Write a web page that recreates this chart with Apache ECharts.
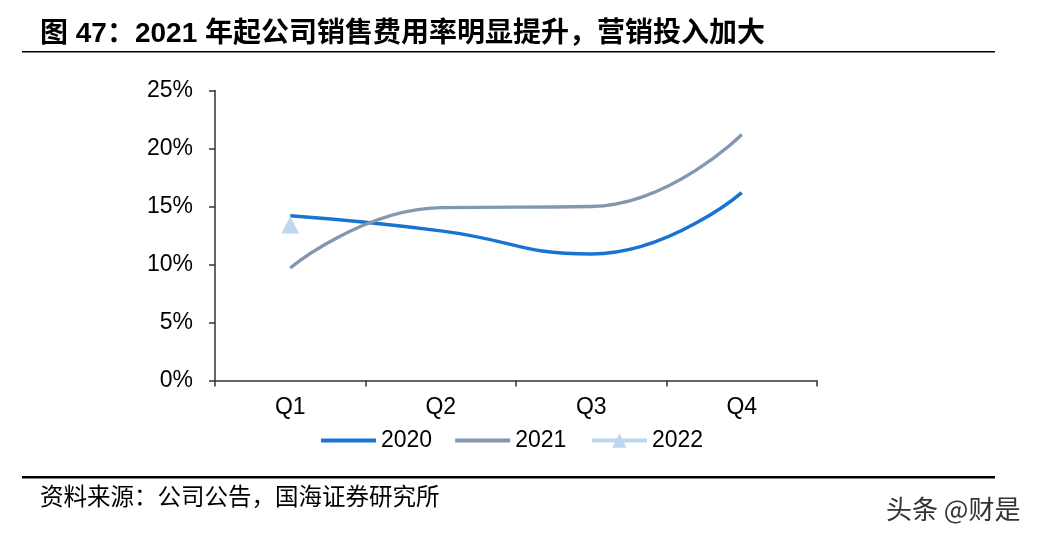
<!DOCTYPE html>
<html><head><meta charset="utf-8">
<script src="https://cdn.jsdelivr.net/npm/echarts@6/dist/echarts.min.js"></script>
<style>html,body{margin:0;padding:0;background:#fff}#c{width:1038px;height:540px}</style>
</head><body><div id="c"></div>
<script>
var categories = ['Q1', 'Q2', 'Q3', 'Q4'];
var s2020 = [14.2, 12.9, 10.9, 16.2];
var s2021 = [9.7, 14.9, 15.0, 21.2];
var s2022 = [13.4, null, null, null];
var seriesNames = ['2020', '2021', '2022'];
var titleText = '图 47：2021 年起公司销售费用率明显提升，营销投入加大';
var sourceText = '资料来源：公司公告，国海证券研究所';
var watermark = '头条 @财是';

var chart = echarts.init(document.getElementById('c'));
var font = 'Liberation Sans, Arial, sans-serif';
chart.setOption({
  animation: false,
  backgroundColor: '#fff',
  grid: {left: 215, right: 221, top: 90.5, bottom: 159.5, containLabel: false},
  xAxis: {
    type: 'category', data: categories, boundaryGap: true,
    axisLine: {lineStyle: {color: '#333', width: 1.5}},
    axisTick: {show: true, length: 6, lineStyle: {color: '#333', width: 1.5}},
    axisLabel: {color: '#000', fontSize: 23, fontFamily: font, margin: 16}
  },
  yAxis: {
    type: 'value', min: 0, max: 25, interval: 5,
    axisLine: {show: true, lineStyle: {color: '#333', width: 1.5}},
    axisTick: {show: true, length: 6, lineStyle: {color: '#333', width: 1.5}},
    splitLine: {show: false},
    axisLabel: {color: '#000', fontSize: 23, fontFamily: font, margin: 22, formatter: '{value}%'}
  },
  legend: [
    {
      data: [{name: seriesNames[0], icon: 'rect'}, {name: seriesNames[1], icon: 'rect'}],
      left: 321, top: 429, padding: 0,
      itemWidth: 55, itemHeight: 4, itemGap: 23,
      textStyle: {color: '#000', fontSize: 23, fontFamily: font}
    },
    {
      data: [seriesNames[2]],
      left: 590, top: 429, padding: 0,
      itemWidth: 55, itemHeight: 18,
      lineStyle: {width: 4},
      textStyle: {color: '#000', fontSize: 23, fontFamily: font}
    }
  ],
  series: [
    {name: '2020', type: 'line', data: s2020, smooth: 0.5, showSymbol: false, symbol: 'none',
     lineStyle: {color: '#1874D2', width: 3.4}, itemStyle: {color: '#1874D2'}},
    {name: '2021', type: 'line', data: s2021, smooth: 0.5, showSymbol: false, symbol: 'none',
     lineStyle: {color: '#8497B0', width: 3.4}, itemStyle: {color: '#8497B0'}},
    {name: '2022', type: 'line', data: s2022, symbol: 'triangle', symbolSize: [18, 17], showSymbol: true,
     lineStyle: {color: '#BDD7EE', width: 3.4}, itemStyle: {color: '#BDD7EE'}, z: 5}
  ],
  graphic: [
    {type: 'text', left: 40, top: 20, style: {text: titleText, fontSize: 28, fontWeight: 'bold', fill: '#000',
      fontFamily: 'Liberation Sans, Noto Sans CJK SC, sans-serif'}},
    {type: 'rect', shape: {x: 22, y: 51, width: 973, height: 1.5}, style: {fill: '#000'}},
    {type: 'rect', shape: {x: 22, y: 476, width: 973, height: 2.5}, style: {fill: '#000'}},
    {type: 'text', left: 40, top: 484, style: {text: sourceText, fontSize: 23.5, fill: '#000',
      fontFamily: 'Noto Sans CJK SC, sans-serif'}},
    {type: 'text', left: 886, top: 496, style: {text: watermark, fontSize: 26, fill: '#333',
      fontFamily: 'Noto Sans CJK SC, sans-serif'}}
  ]
});
</script></body></html>
